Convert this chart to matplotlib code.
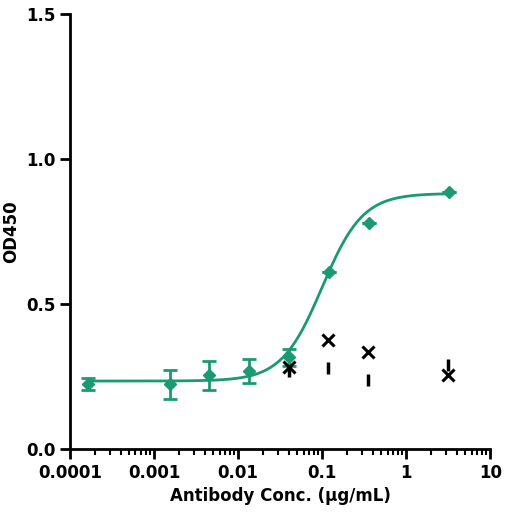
import numpy as np
import matplotlib
matplotlib.use("Agg")
import matplotlib.pyplot as plt
from matplotlib.ticker import FixedLocator, LogLocator, NullFormatter

conc = [0.000164, 0.00155, 0.0045, 0.0135, 0.04, 0.12, 0.36, 3.2]
od = [0.224, 0.224, 0.255, 0.27, 0.317, 0.61, 0.78, 0.886]
err = [0.02, 0.05, 0.05, 0.04, 0.03, 0, 0, 0]
ctrl_x = [0.04, 0.117, 0.354, 3.16]
ctrl_y = [0.283, 0.376, 0.334, 0.255]
ctrl2_y = [0.27, 0.28, 0.238, 0.29]
# 4PL fit parameters: bottom, top, EC50, hill
fit = [0.235, 0.882, 0.1, 1.8]
xticks = [0.0001, 0.001, 0.01, 0.1, 1, 10]
xlabels = ["0.0001", "0.001", "0.01", "0.1", "1", "10"]
yticks = [0.0, 0.5, 1.0, 1.5]

green = "#1a9a72"
fig = plt.figure(figsize=(5.08, 5.26), dpi=100)
ax = fig.add_axes([0.138, 0.146, 0.827, 0.827])
xs = np.logspace(np.log10(conc[0]), np.log10(conc[-1]), 300)
b, t, ec, h = fit
ax.plot(xs, b + (t - b) / (1 + (ec / xs) ** h), color=green, lw=2)
ax.errorbar(conc, od, yerr=err, fmt="D", color=green, ms=6, capsize=5, elinewidth=2, capthick=2)
ax.plot(ctrl_x, ctrl_y, "x", color="black", ms=8, mew=2.2, ls="none")
ax.plot(ctrl_x, ctrl2_y, "|", color="black", ms=9, mew=2.5, ls="none")
ax.set_xscale("log")
ax.set_xlim(0.0001, 10)
ax.set_ylim(0, 1.5)
ax.xaxis.set_major_locator(FixedLocator(xticks))
ax.set_xticklabels(xlabels)
ax.xaxis.set_minor_locator(LogLocator(subs=np.arange(2, 10)))
ax.xaxis.set_minor_formatter(NullFormatter())
ax.set_yticks(yticks)
ax.set_yticklabels(["0.0", "0.5", "1.0", "1.5"])
for s in ["top", "right"]:
    ax.spines[s].set_visible(False)
for s in ["left", "bottom"]:
    ax.spines[s].set_linewidth(2)
ax.tick_params(which="major", width=2, length=7, labelsize=12, direction="out")
ax.tick_params(which="minor", width=1.5, length=4)
for lab in ax.get_xticklabels() + ax.get_yticklabels():
    lab.set_fontweight("bold")
ax.set_xlabel("Antibody Conc. (μg/mL)", fontsize=12, fontweight="bold")
ax.set_ylabel("OD450", fontsize=12, fontweight="bold")
fig.savefig("out.png", dpi=100)
